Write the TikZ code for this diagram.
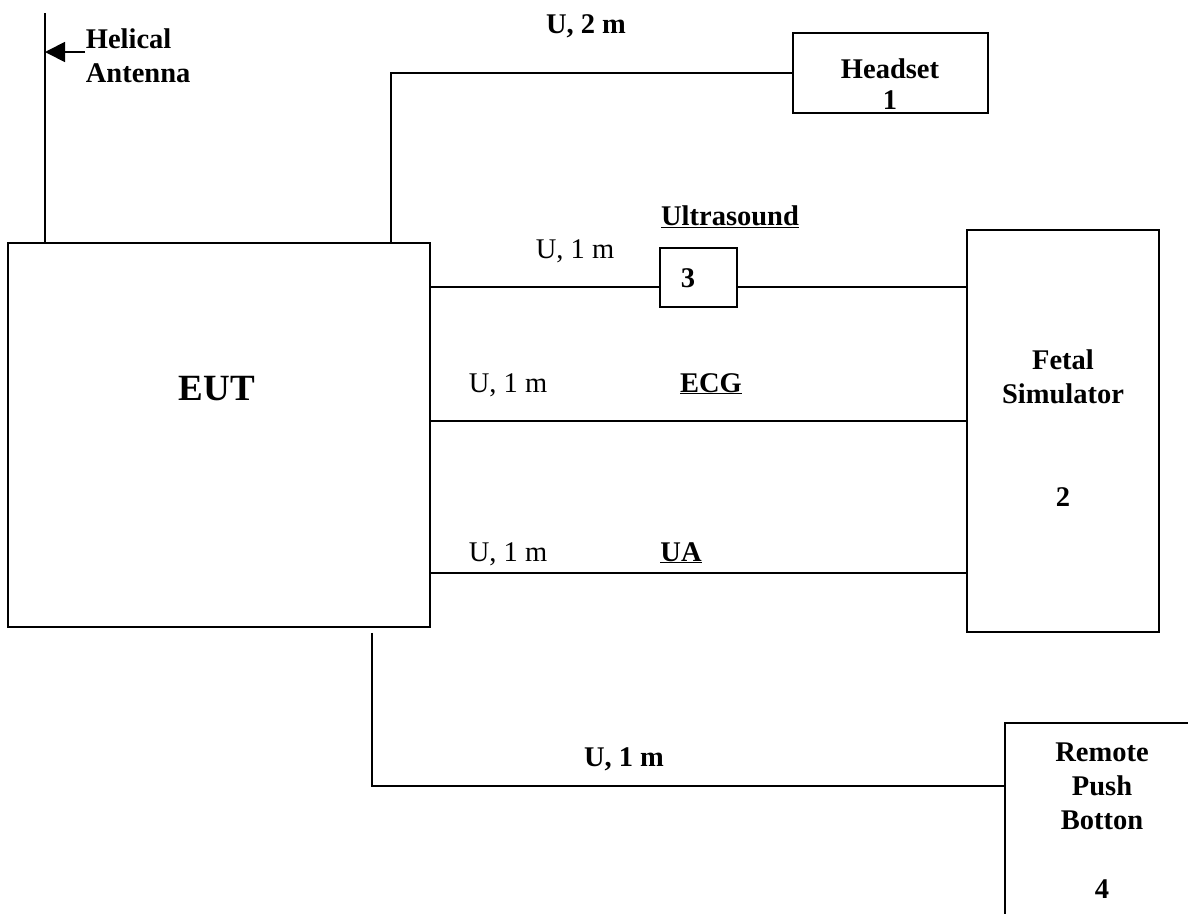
\documentclass[tikz,border=0pt]{standalone}
\usepackage{fontspec}
\setmainfont{Liberation Serif}
\usetikzlibrary{arrows.meta}

\begin{document}
\begin{tikzpicture}[x=1pt, y=-1pt, line width=1.8pt,
    devbox/.style={draw, rectangle, inner sep=0pt},
    lbl/.style={font={\fontsize{28.5}{34}\selectfont\bfseries}, inner sep=0pt},
    plainlbl/.style={font={\fontsize{28.5}{34}\selectfont}, inner sep=0pt},
    antarrow/.style={-{Triangle[length=20pt,width=20pt]}}]

        % Page frame (the remote box runs off the edge)
        \clip (0,0) rectangle (1188,913);

        % Equipment boxes
        \node[devbox, minimum width=422pt, minimum height=384pt] (eut) at (219,435) {};
        \node[devbox, minimum width=195pt, minimum height=80pt] (headset) at (890.5,73) {};
        \node[devbox, minimum width=77pt, minimum height=59pt] (usbox) at (698.5,277.5) {};
        \node[devbox, minimum width=192pt, minimum height=402pt] (fetal) at (1063,431) {};
        \node[devbox, minimum width=195pt, minimum height=220pt] (remote) at (1102.5,833) {};

        % Box texts
        \node[lbl, font={\fontsize{37}{40}\selectfont\bfseries}, anchor=base] (euttext) at (217,400) {EUT};
        \node[lbl, font={\fontsize{28.5}{31}\selectfont\bfseries}, anchor=north, align=center] (hstext) at (890,58) {Headset\\1};
        \node[lbl, anchor=base] (ustext) at (688,287) {3};
        \node[lbl, anchor=north, align=center] (fetaltext) at (1063,349) {Fetal\\Simulator\\[69pt]2};
        \node[lbl, anchor=north, align=center] (rmtext) at (1102,742) {Remote\\Push\\Botton\\[35pt]4};

        % Antenna
        \coordinate (anttop) at (45,13);
        \draw (eut.north -| anttop) -- (anttop);
        \node[lbl, anchor=north west, align=left] (antlabel) at (85,28) {Helical\\Antenna};
        \draw[antarrow] (antlabel.west |- 0,52) -- (anttop |- 0,52);

        % Headset cable
        \draw (eut.north -| 391,0) |- (headset.west);
        \node[lbl, anchor=base] (hscable) at (586,33) {U, 2 m};

        % Ultrasound cable through transducer 3
        \draw (eut.east |- 0,287) -- (usbox.west |- 0,287);
        \draw (usbox.east |- 0,287) -- (fetal.west |- 0,287);
        \node[lbl, anchor=base] (uslabel) at (730,225) {\underline{Ultrasound}};
        \node[plainlbl, anchor=base] (uscable) at (575,258) {U, 1 m};

        % ECG cable
        \draw (eut.east |- 0,421) -- (fetal.west |- 0,421);
        \node[plainlbl, anchor=base] (ecgcable) at (508,392) {U, 1 m};
        \node[lbl, anchor=base] (ecglabel) at (711,392) {\underline{ECG}};

        % UA cable
        \draw (eut.east |- 0,573) -- (fetal.west |- 0,573);
        \node[plainlbl, anchor=base] (uacable) at (508,561) {U, 1 m};
        \node[lbl, anchor=base] (ualabel) at (681,561) {\underline{UA}};

        % Remote push button cable
        \draw (eut.south -| 372,0) ++(0,5) |- (remote.west |- 0,786);
        \node[lbl, anchor=base] (rmcable) at (624,766) {U, 1 m};

    \end{tikzpicture}
\end{document}
